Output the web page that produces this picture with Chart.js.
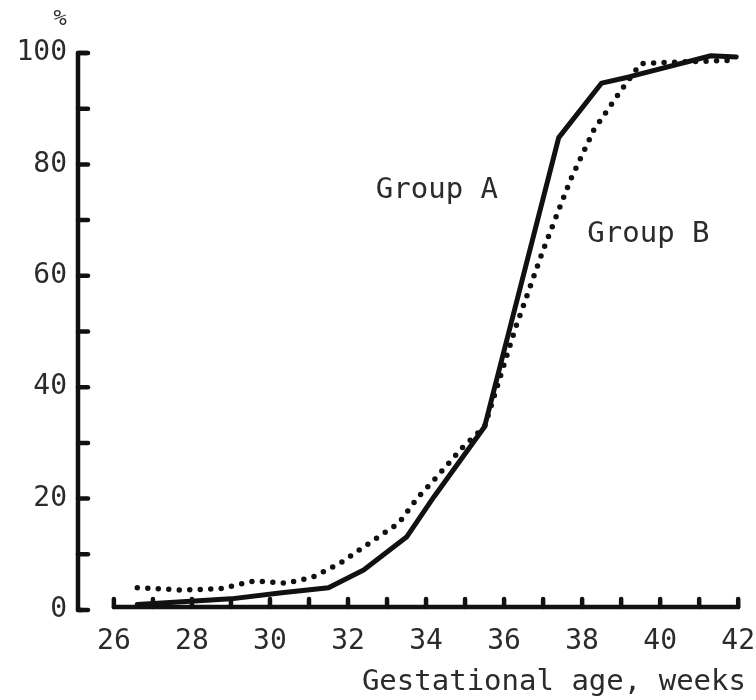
<!DOCTYPE html>
<html>
<head>
<meta charset="utf-8">
<script src="https://cdn.jsdelivr.net/npm/chart.js@4.4.1/dist/chart.umd.min.js"></script>
<style>
  html, body { margin: 0; padding: 0; background: #fff; overflow: hidden; }
  #wrap { width: 756px; height: 700px; }
</style>
</head>
<body>
<div id="wrap"><canvas id="chart"></canvas></div>
<script>
// Gestational age curves — plotter style, black on white

// Group A (solid line)
const weeksA = [26.6, 29.0, 30.3, 31.5, 32.4, 33.5, 34.2, 35.5, 37.4, 38.5, 39.2, 41.3, 41.95];
const pctA   = [1.0, 2.0, 3.1, 4.0, 7.2, 13.1, 20.3, 32.9, 84.8, 94.6, 95.7, 99.5, 99.3];

// Group B (dotted line)
const weeksB = [26.6, 27.7, 28.7, 29.6, 30.4, 31.1, 31.8, 32.4, 33.3, 33.8, 34.2, 34.95, 35.5, 36.3, 37.0, 37.7, 38.3, 39.0, 39.5, 40.5, 41.95];
const pctB   = [4.0, 3.6, 3.8, 5.2, 4.8, 5.9, 8.4, 11.3, 15.6, 20.3, 23.3, 29.3, 32.9, 50.8, 64.6, 77.2, 86.2, 93.3, 98.1, 98.4, 98.7];

// axis ticks
const xTickLabels = [26, 28, 30, 32, 34, 36, 38, 40, 42];
const xTickMarks = [26, 27, 28, 29, 30, 31, 32, 33, 34, 35, 36, 37, 38, 39, 40, 41, 42];
const yTickLabels = [0, 20, 40, 60, 80, 100];
const yTickMarks = [0, 10, 20, 30, 40, 50, 60, 70, 80, 90, 100];

// in-plot labels
const noteTexts = ['Group A', 'Group B'];
const noteWeeks = [34.28, 39.7];
const notePcts = [75.4, 67.5];

const INK = '#111';
const TEXT = '#2b2b2b';
const FONT = "'DejaVu Sans Mono', 'Liberation Mono', monospace";

const zip = (xs, ys) => xs.map((x, i) => ({ x, y: ys[i] }));

/** Draws the axis lines, inward tick marks and free text like the original plot. */
const plotterAxes = {
    id: 'plotterAxes',
    afterDraw(chart) {
        const { ctx } = chart;
        const { x, y } = chart.scales;
        const ax = x.left;
        const top = y.getPixelForValue(100);
        const bottom = y.getPixelForValue(0);
        const base = bottom - 3;

        ctx.save();
        ctx.strokeStyle = INK;
        ctx.lineWidth = 4.5;
        ctx.lineCap = 'round';
        ctx.lineJoin = 'round';

        // y axis with hook at the top
        ctx.beginPath();
        ctx.moveTo(ax + 9, top);
        ctx.lineTo(ax, top);
        ctx.lineTo(ax, bottom);
        ctx.lineTo(ax + 4, bottom);
        ctx.stroke();
        yTickMarks.forEach((v) => {
            const py = y.getPixelForValue(v);
            ctx.beginPath();
            ctx.moveTo(ax, py);
            ctx.lineTo(ax + 10, py);
            ctx.stroke();
        });

        // x axis, detached from the y axis
        ctx.beginPath();
        ctx.moveTo(x.getPixelForValue(26), base);
        ctx.lineTo(x.getPixelForValue(42), base);
        ctx.stroke();
        xTickMarks.forEach((v) => {
            const px = x.getPixelForValue(v);
            ctx.beginPath();
            ctx.moveTo(px, base);
            ctx.lineTo(px, base - 8);
            ctx.stroke();
        });

        // texts
        ctx.fillStyle = TEXT;
        ctx.textBaseline = 'middle';
        ctx.textAlign = 'center';
        ctx.font = `22px ${FONT}`;
        ctx.fillText('%', 60, 19);
        ctx.font = `29px ${FONT}`;
        noteTexts.forEach((t, i) => {
            ctx.fillText(t, x.getPixelForValue(noteWeeks[i]), y.getPixelForValue(notePcts[i]));
        });
        ctx.restore();
    }
};

const ctx = document.getElementById('chart').getContext('2d');
new Chart(ctx, {
    type: 'line',
    data: {
        datasets: [{
            label: 'Group A',
            data: zip(weeksA, pctA),
            borderColor: INK,
            borderWidth: 5,
            borderJoinStyle: 'round',
            borderCapStyle: 'round',
            pointRadius: 0,
            tension: 0,
            fill: false,
        }, {
            label: 'Group B',
            data: zip(weeksB, pctB),
            borderColor: INK,
            borderWidth: 5.5,
            borderDash: [0, 10.5],
            borderCapStyle: 'round',
            pointRadius: 0,
            tension: 0,
            fill: false,
        }]
    },
    options: {
        responsive: true,
        maintainAspectRatio: false,
        animation: false,
        layout: { autoPadding: false, padding: { top: 53, right: 10, left: 0, bottom: 0 } },
        plugins: {
            legend: { display: false },
            tooltip: { enabled: false },
        },
        scales: {
            x: {
                type: 'linear',
                min: 25.08,
                max: 42.2,
                afterBuildTicks: (s) => { s.ticks = xTickLabels.map((v) => ({ value: v })); },
                // fixed box; edge labels must not shrink the plot
                afterFit: (s) => { s.height = 90; s.paddingLeft = 0; s.paddingRight = 0; },
                grid: { display: false, drawTicks: false },
                border: { display: false },
                ticks: {
                    color: TEXT,
                    padding: 15,
                    maxRotation: 0,
                    autoSkip: false,
                    font: { family: FONT, size: 28 },
                },
                title: {
                    display: true,
                    text: 'Gestational age, weeks',
                    align: 'end',
                    color: TEXT,
                    padding: 0,
                    font: { family: FONT, size: 29 },
                },
            },
            y: {
                min: 0,
                max: 100,
                afterBuildTicks: (s) => { s.ticks = yTickLabels.map((v) => ({ value: v })); },
                afterFit: (s) => { s.width = 78; },
                grid: { display: false, drawTicks: false },
                border: { display: false },
                ticks: {
                    color: TEXT,
                    padding: 11,
                    font: { family: FONT, size: 28 },
                },
            },
        },
    },
    plugins: [plotterAxes],
});
</script>
</body>
</html>
